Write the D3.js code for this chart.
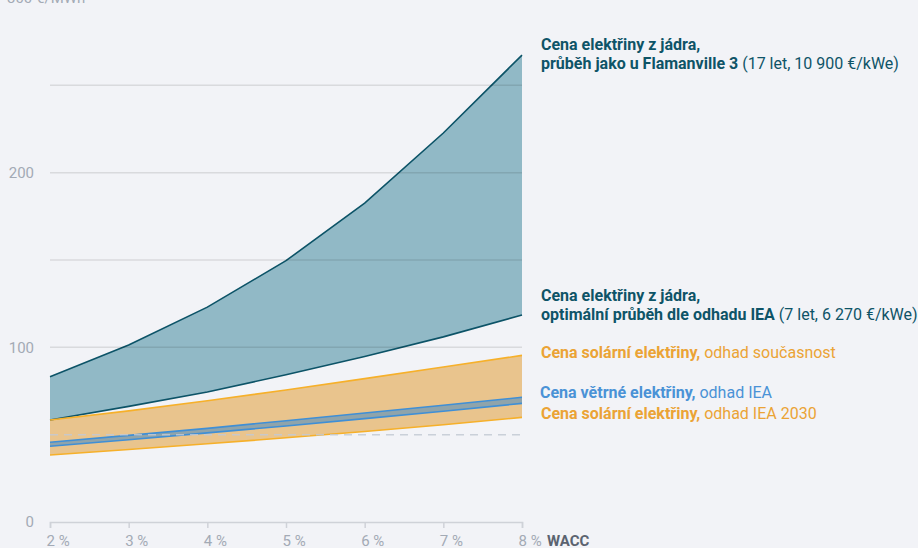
<!DOCTYPE html>
<html>
<head>
<meta charset="utf-8">
<script src="https://cdn.jsdelivr.net/npm/d3@7/dist/d3.min.js"></script>
<style>
  html, body { margin: 0; padding: 0; background: #f2f3f7; }
  svg { display: block; font-family: Roboto, "Noto Sans", sans-serif; }
</style>
</head>
<body>
<svg id="chart" width="918" height="548"></svg>
<script>
// WACC (%) on the horizontal axis
const wacc = [2, 3, 4, 5, 6, 7, 8];

// Electricity price, €/MWh
const nuclearFlamanville = [83.2, 101.3, 123, 149.6, 182.6, 222.7, 267.3];
const nuclearIEA         = [58.4, 66.2, 74.4, 84.3, 94.8, 106, 118.5];
const solarNow           = [58.4, 63.6, 69.4, 75.6, 82.1, 88.7, 95.4];
const solarIEA2030       = [38.4, 41.5, 44.8, 48.2, 51.8, 55.7, 59.9];
const windHigh           = [45.7, 49.6, 53.6, 58.0, 62.4, 66.8, 71.4];
const windLow            = [43.4, 47.1, 51.0, 55.0, 59.2, 63.4, 67.9];

const yTicks = [0, 100, 200, 300];
const gridValues = [100, 150, 200, 250];
const dashedValue = 50;

const svg = d3.select("#chart");
const x = d3.scaleLinear().domain([2, 8]).range([50, 522]);
const y = d3.scaleLinear().domain([0, 300]).range([522, -2]);

const rows = wacc.map((w, i) => ({
  w,
  nf: nuclearFlamanville[i], ni: nuclearIEA[i],
  sn: solarNow[i], s30: solarIEA2030[i],
  wh: windHigh[i], wl: windLow[i]
}));

const band = (lo, hi) => d3.area().x(d => x(d.w)).y0(d => y(d[lo])).y1(d => y(d[hi]));
const line = key => d3.line().x(d => x(d.w)).y(d => y(d[key]));

// Bands
svg.append("path").attr("d", band("ni", "nf")(rows)).attr("fill", "#91b9c6");
svg.append("path").attr("d", band("s30", "sn")(rows)).attr("fill", "#e9c48d");
svg.append("path").attr("d", band("wl", "wh")(rows)).attr("fill", "#8fa4ab");

// Band edges
const edges = [
  ["nf", "#0c5367"], ["ni", "#0c5367"],
  ["sn", "#f6b02a"], ["s30", "#f6b02a"],
  ["wh", "#3f8fd6"], ["wl", "#3f8fd6"]
];
edges.forEach(([k, c]) => {
  svg.append("path").attr("d", line(k)(rows))
    .attr("fill", "none").attr("stroke", c).attr("stroke-width", 1.6);
});

// Gridlines drawn over the bands
svg.append("g").selectAll("line").data(gridValues).join("line")
  .attr("x1", x(2)).attr("x2", x(8))
  .attr("y1", d => y(d)).attr("y2", d => y(d))
  .attr("stroke", "rgba(0,0,0,0.1)").attr("stroke-width", 1.5);

svg.append("line")
  .attr("x1", x(2)).attr("x2", x(8))
  .attr("y1", y(dashedValue)).attr("y2", y(dashedValue))
  .attr("stroke", "rgba(195,201,211,0.85)").attr("stroke-width", 1.5)
  .attr("stroke-dasharray", "8,6");

// Y axis labels
const yl = svg.append("g").attr("fill", "#a3aab5").attr("font-size", 15);
yTicks.forEach(v => {
  const t = yl.append("text").attr("x", 34).attr("y", y(v)).attr("dy", "0.35em");
  if (v === 300) {
    t.attr("x", 7).attr("text-anchor", "start").text("300 €/MWh");
  } else {
    t.attr("text-anchor", "end").text(v);
  }
});

// X axis
const xAxis = d3.axisBottom(x).tickValues(wacc).tickSize(6).tickFormat(d => d + " %");
const gx = svg.append("g").attr("transform", `translate(0,${y(0)})`).call(xAxis);
gx.attr("font-size", 15).attr("font-family", "Roboto, sans-serif");
gx.select(".domain").attr("stroke", "#cfd2d8").attr("stroke-width", 1.5);
gx.selectAll(".tick line").attr("stroke", "#cfd2d8").attr("stroke-width", 1.5);
gx.selectAll(".tick text")
  .attr("fill", "#a3aab5").attr("font-size", 15)
  .attr("text-anchor", "start").attr("x", -4).attr("y", 24).attr("dy", 0);
svg.append("text").attr("x", 547).attr("y", 546)
  .attr("font-size", 15).attr("font-weight", 700).attr("fill", "#5b6370")
  .text("WACC");

// Series labels
function label(lines, color, x0) {
  lines.forEach(([yy, parts]) => {
    const t = svg.append("text").attr("x", x0).attr("y", yy)
      .attr("font-size", 16).attr("fill", color);
    parts.forEach(([txt, bold]) => {
      t.append("tspan").attr("font-weight", bold ? 700 : 400).text(txt);
    });
  });
}
label([
  [50, [["Cena elektřiny z jádra,", true]]],
  [69, [["průběh jako u Flamanville 3", true], [" (17 let, 10 900 €/kWe)", false]]]
], "#0e5467", 541);
label([
  [301, [["Cena elektřiny z jádra,", true]]],
  [320, [["optimální průběh dle odhadu IEA", true], [" (7 let, 6 270 €/kWe)", false]]]
], "#0e5467", 541);
label([[358, [["Cena solární elektřiny,", true], [" odhad současnost", false]]]], "#eba335", 541);
label([[398, [["Cena větrné elektřiny,", true], [" odhad IEA", false]]]], "#4a92d6", 540);
label([[419, [["Cena solární elektřiny,", true], [" odhad IEA 2030", false]]]], "#eba335", 541);
</script>
</body>
</html>
